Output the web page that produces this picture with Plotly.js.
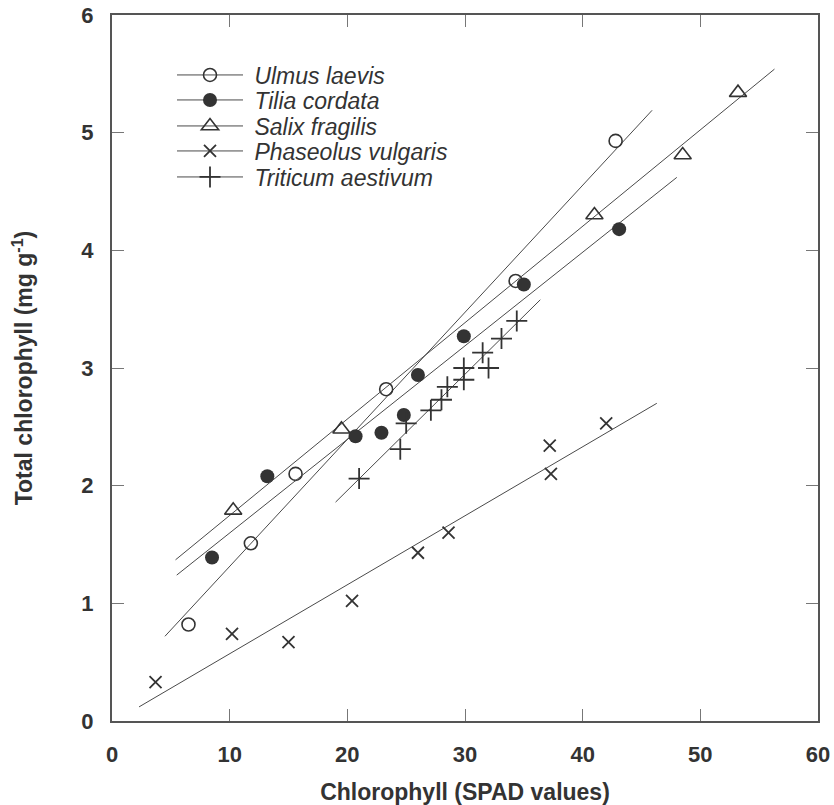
<!DOCTYPE html>
<html>
<head>
<meta charset="utf-8">
<script src="https://cdn.plot.ly/plotly-3.0.1.min.js"></script>
<style>html,body{margin:0;padding:0;background:#fff;}#chart{width:834px;height:805px;}</style>
</head>
<body>
<div id="chart"></div>
<script>
// ---- data ----
const seriesNames = ["Ulmus laevis", "Tilia cordata", "Salix fragilis", "Phaseolus vulgaris", "Triticum aestivum"];

const ulmusX = [6.5, 11.8, 15.6, 23.3, 34.3, 42.8];
const ulmusY = [0.82, 1.51, 2.10, 2.82, 3.74, 4.93];

const tiliaX = [8.5, 13.2, 20.7, 22.9, 24.8, 26.0, 29.9, 35.0, 43.1];
const tiliaY = [1.39, 2.08, 2.42, 2.45, 2.60, 2.94, 3.27, 3.71, 4.18];

const salixX = [10.3, 19.5, 41.0, 48.5, 53.2];
const salixY = [1.79, 2.48, 4.30, 4.81, 5.34];

const phaseolusX = [3.7, 10.2, 15.0, 20.4, 26.0, 28.6, 37.2, 37.3, 42.0];
const phaseolusY = [0.33, 0.74, 0.67, 1.02, 1.43, 1.60, 2.34, 2.10, 2.53];

const triticumX = [21.0, 24.5, 25.0, 27.1, 28.0, 28.5, 29.9, 29.9, 32.0, 31.5, 33.1, 34.4];
const triticumY = [2.06, 2.31, 2.53, 2.64, 2.73, 2.84, 2.90, 3.00, 3.00, 3.13, 3.25, 3.40];

// fitted regression lines (end points)
const ulmusFitX = [4.5, 45.9],   ulmusFitY = [0.72, 5.19];
const tiliaFitX = [5.5, 48.0],   tiliaFitY = [1.24, 4.62];
const salixFitX = [5.4, 56.3],   salixFitY = [1.37, 5.54];
const phaseolusFitX = [2.3, 46.3], phaseolusFitY = [0.12, 2.70];
const triticumFitX = [19.0, 36.4], triticumFitY = [1.86, 3.58];

const xTicks = [0, 10, 20, 30, 40, 50, 60];
const yTicks = [0, 1, 2, 3, 4, 5, 6];

// ---- styling ----
const ink = '#333333';
const lineInk = '#4a4a4a';
const symbols = [
  {symbol: 'circle-open', size: 13, color: ink, line: {width: 1.6, color: ink}},
  {symbol: 'circle', size: 14, color: ink, line: {width: 0, color: ink}},
  {symbol: 'triangle-up-open', size: 15, color: ink, line: {width: 1.6, color: ink}},
  {symbol: 'x-thin-open', size: 12, color: ink, line: {width: 1.8, color: ink}},
  {symbol: 'cross-thin-open', size: 15, color: ink, line: {width: 1.8, color: ink}}
];
const pts = [[ulmusX, ulmusY], [tiliaX, tiliaY], [salixX, salixY], [phaseolusX, phaseolusY], [triticumX, triticumY]];
const fits = [[ulmusFitX, ulmusFitY], [tiliaFitX, tiliaFitY], [salixFitX, salixFitY], [phaseolusFitX, phaseolusFitY], [triticumFitX, triticumFitY]];
const legendIds = ['legend', 'legend2', 'legend3', 'legend4', 'legend5'];

const traces = [];
for (let i = 0; i < seriesNames.length; i++) {
  // fit line (shown in legend with its marker symbol, endpoint markers hidden on the plot)
  traces.push({
    type: 'scatter', mode: 'lines+markers', name: '\u00a0' + seriesNames[i],
    x: fits[i][0], y: fits[i][1],
    line: {color: lineInk, width: 1},
    marker: symbols[i],
    selectedpoints: [],
    unselected: {marker: {opacity: 0}},
    legend: legendIds[i], legendgroup: 'g' + i,
    hoverinfo: 'skip', cliponaxis: false
  });
  // data points
  traces.push({
    type: 'scatter', mode: 'markers', name: seriesNames[i],
    x: pts[i][0], y: pts[i][1],
    marker: symbols[i],
    showlegend: false, legendgroup: 'g' + i, cliponaxis: false
  });
}

const rowPx = [75, 100, 126, 151, 177];
const plotTop = 15, plotBottom = 721;
const layout = {
  width: 834, height: 805,
  margin: {l: 112, r: 16, t: 15, b: 84},
  paper_bgcolor: '#fff', plot_bgcolor: '#fff',
  font: {family: 'Liberation Sans, Arial, sans-serif', color: ink},
  xaxis: {
    range: [0, 60], tickvals: xTicks, ticktext: xTicks.map(String),
    ticks: 'inside', ticklen: 12, tickwidth: 1, tickcolor: '#777',
    showline: true, linecolor: '#555', linewidth: 2, mirror: 'ticks',
    showgrid: false, zeroline: false,
    tickfont: {size: 22, weight: 'bold', color: ink},
    ticklabelstandoff: 13,
    title: {text: 'Chlorophyll (SPAD values)', font: {size: 23, weight: 'bold', color: ink}, standoff: 31}
  },
  yaxis: {
    range: [0, 6], tickvals: yTicks, ticktext: yTicks.map(String),
    ticks: 'inside', ticklen: 12, tickwidth: 1, tickcolor: '#777',
    showline: true, linecolor: '#555', linewidth: 2, mirror: 'ticks',
    showgrid: false, zeroline: false,
    tickfont: {size: 22, weight: 'bold', color: ink},
    ticklabelstandoff: 12,
    title: {text: 'Total chlorophyll (mg g<sup>-1</sup>)', font: {size: 23, weight: 'bold', color: ink}, standoff: 42}
  },
  showlegend: true
};
for (let i = 0; i < legendIds.length; i++) {
  layout[legendIds[i]] = {
    x: (172 - 112) / 706, xanchor: 'left',
    y: (plotBottom - rowPx[i]) / (plotBottom - plotTop), yanchor: 'middle',
    bgcolor: 'rgba(0,0,0,0)', borderwidth: 0, itemwidth: 66,
    font: {size: 23, style: 'italic', color: ink},
    itemclick: false, itemdoubleclick: false
  };
}

Plotly.newPlot('chart', traces, layout, {displayModeBar: false, staticPlot: true});
</script>
</body>
</html>
